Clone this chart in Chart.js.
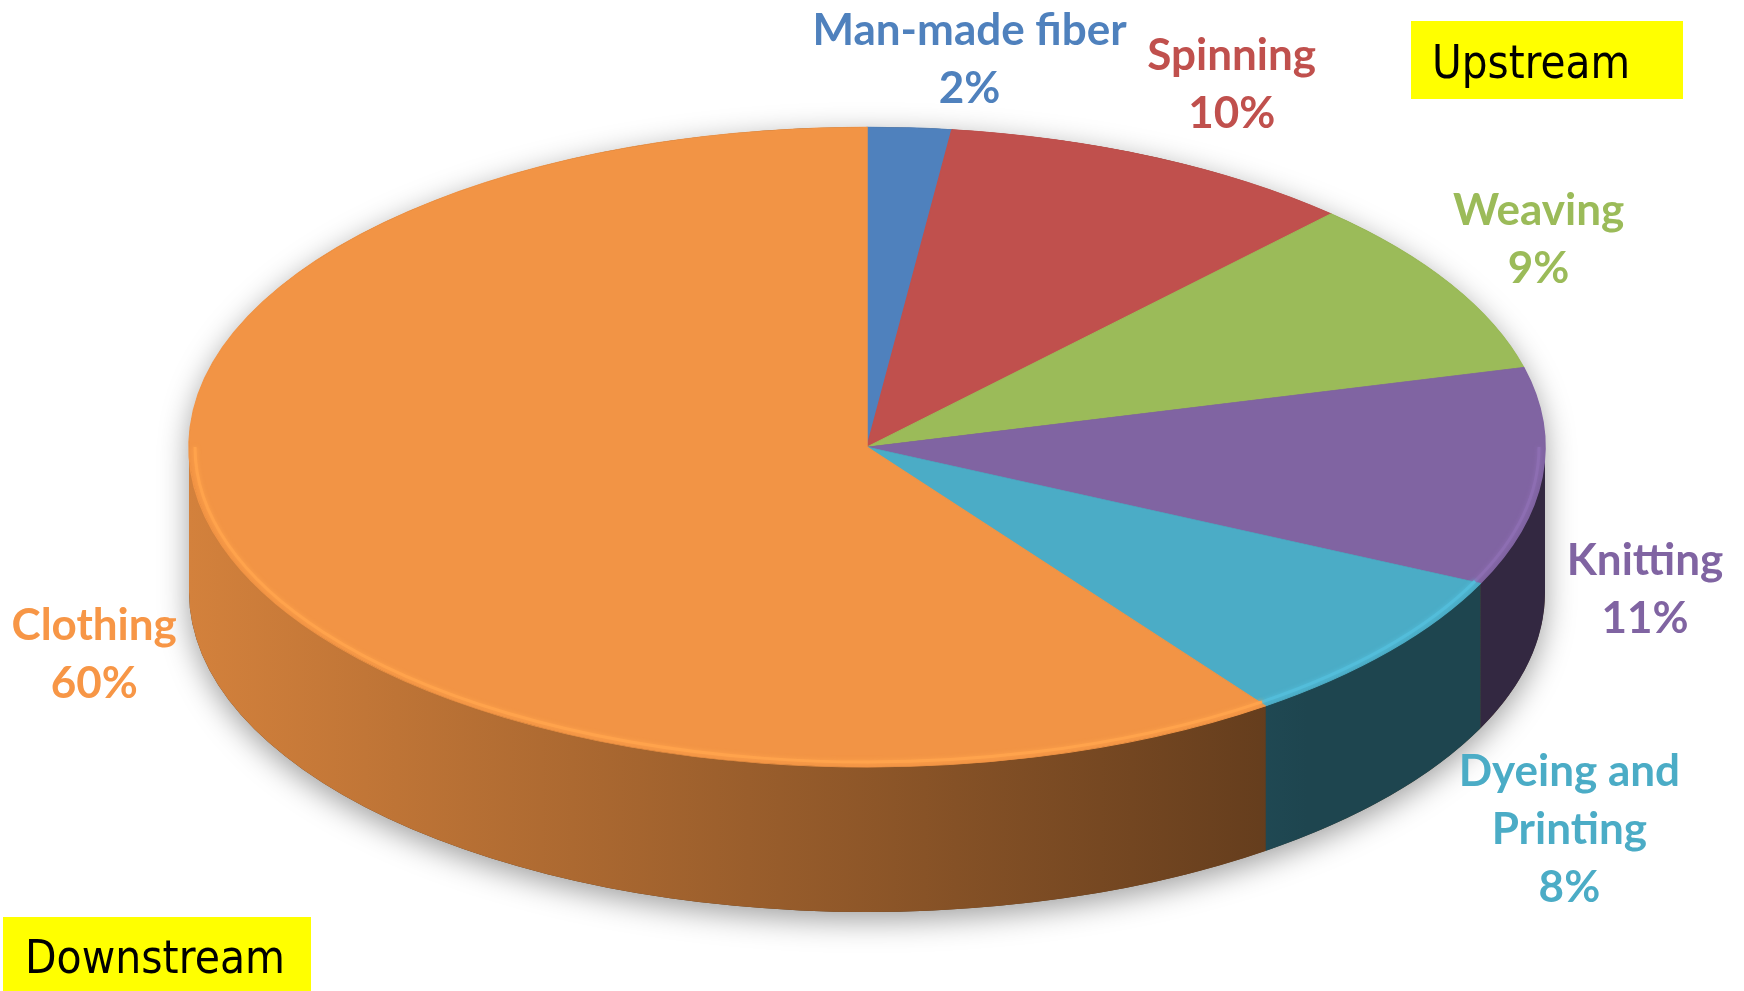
<!DOCTYPE html>
<html>
<head>
<meta charset="utf-8">
<title>Textile value chain</title>
<script src="https://cdn.jsdelivr.net/npm/chart.js@4.4.1/dist/chart.umd.min.js"></script>
<style>
  html, body { margin: 0; padding: 0; background: #fff; }
  canvas { display: block; }
</style>
</head>
<body>
<canvas id="pieChart" width="1744" height="991"></canvas>
<script>
const categories = ['Man-made fiber', 'Spinning', 'Weaving', 'Knitting', ['Dyeing and', 'Printing'], 'Clothing'];
const shares = [2, 10, 9, 11, 8, 60];
const sliceColors = ['#4F81BD', '#C0504D', '#9BBB59', '#8064A2', '#4BACC6', '#F29445'];
const labelColors = ['#4F81BD', '#C0504D', '#9BBB59', '#8064A2', '#4BACC6', '#F79646'];

// how far each label sits from the rim of its slice
const labelShift = [[60, -68], [76, -73], [88, -44], [103, 113], [180, 179], [-128, 109]];

// the flat pie is squashed into this ellipse, with this thickness
const disc = { rx: 678, ry: 320, depth: 145 };

function shade(hex, f) {
  const n = parseInt(hex.slice(1), 16);
  const r = Math.min(255, Math.round(((n >> 16) & 255) * f));
  const g = Math.min(255, Math.round(((n >> 8) & 255) * f));
  const b = Math.min(255, Math.round((n & 255) * f));
  return `rgb(${r},${g},${b})`;
}

function fitText(ctx, text, x, y, font, width) {
  ctx.font = font;
  const w = ctx.measureText(text).width;
  ctx.save();
  ctx.translate(x, y);
  ctx.scale(width / w, 1);
  ctx.fillText(text, 0, 0);
  ctx.restore();
}

const pie3d = {
  id: 'pie3d',
  beforeDatasetsDraw(chart) {
    const ctx = chart.ctx;
    const arcs = chart.getDatasetMeta(0).data;
    const { x, y, outerRadius } = arcs[0];
    const { rx, ry, depth } = disc;

    // soft shadow round the whole disc
    ctx.save();
    ctx.beginPath();
    ctx.ellipse(x, y, rx, ry, 0, Math.PI, 2 * Math.PI);
    ctx.lineTo(x + rx, y + depth);
    ctx.ellipse(x, y + depth, rx, ry, 0, 0, Math.PI);
    ctx.closePath();
    ctx.shadowColor = 'rgba(0,0,0,0.38)';
    ctx.shadowBlur = 30;
    ctx.shadowOffsetY = 8;
    ctx.fillStyle = '#5a3a1c';
    ctx.fill();
    ctx.restore();

    // side walls for the front half
    arcs.forEach((arc, i) => {
      const a1 = Math.max(arc.startAngle, 0);
      const a2 = Math.min(arc.endAngle, Math.PI);
      if (a2 <= a1) return;
      const grad = ctx.createLinearGradient(x - rx, 0, x + 0.65 * rx, 0);
      grad.addColorStop(0, shade(sliceColors[i], 0.87));
      grad.addColorStop(1, shade(sliceColors[i], 0.4));
      ctx.beginPath();
      ctx.ellipse(x, y, rx, ry, 0, a1, a2);
      ctx.lineTo(x + rx * Math.cos(a2), y + depth + ry * Math.sin(a2));
      ctx.ellipse(x, y + depth, rx, ry, 0, a2, a1, true);
      ctx.closePath();
      ctx.fillStyle = grad;
      ctx.fill();
    });

    ctx.save();
    ctx.translate(x, y);
    ctx.scale(rx / outerRadius, ry / outerRadius);
    ctx.translate(-x, -y);
  },
  afterDatasetsDraw(chart) {
    const ctx = chart.ctx;
    ctx.restore();
    const arcs = chart.getDatasetMeta(0).data;
    const { x, y } = arcs[0];
    const { rx, ry } = disc;
    const total = shares.reduce((s, v) => s + v, 0);

    // light bevel along the front rim
    arcs.forEach((arc, i) => {
      const a1 = Math.max(arc.startAngle, 0);
      const a2 = Math.min(arc.endAngle, Math.PI);
      if (a2 <= a1) return;
      ctx.save();
      ctx.beginPath();
      ctx.ellipse(x, y, rx - 6, ry - 5, 0, a1, a2);
      ctx.strokeStyle = shade(sliceColors[i], 1.1);
      ctx.lineWidth = 3;
      ctx.shadowColor = shade(sliceColors[i], 1.1);
      ctx.shadowBlur = 4;
      ctx.stroke();
      ctx.restore();
    });

    // category + percentage labels
    ctx.save();
    ctx.textAlign = 'center';
    ctx.textBaseline = 'middle';
    ctx.font = 'bold 44px Lato';
    arcs.forEach((arc, i) => {
      const mid = (arc.startAngle + arc.endAngle) / 2;
      const ex = x + rx * Math.cos(mid) + labelShift[i][0];
      const ey = y + ry * Math.sin(mid) + labelShift[i][1];
      const name = categories[i];
      const lines = (Array.isArray(name) ? name : [name]).concat(Math.round(shares[i] / total * 100) + '%');
      const lh = 58;
      ctx.fillStyle = labelColors[i];
      lines.forEach((t, k) => {
        ctx.fillText(t, ex, ey + (k - (lines.length - 1) / 2) * lh);
      });
    });
    ctx.restore();

    // stream tags
    ctx.save();
    ctx.fillStyle = '#FFFF00';
    ctx.fillRect(1411, 21, 272, 78);
    ctx.fillRect(3, 917, 308, 74);
    ctx.fillStyle = '#000';
    ctx.textAlign = 'left';
    ctx.textBaseline = 'alphabetic';
    fitText(ctx, 'Upstream', 1432, 78, '46px "DejaVu Sans"', 198);
    fitText(ctx, 'Downstream', 25, 973, '46px "DejaVu Sans"', 260);
    ctx.restore();
  }
};

function drawChart() {
  const ctx = document.getElementById('pieChart').getContext('2d');
  new Chart(ctx, {
    type: 'pie',
    data: {
      labels: categories,
      datasets: [{
        data: shares,
        backgroundColor: sliceColors,
        borderColor: sliceColors,
        borderWidth: 1
      }]
    },
    options: {
      responsive: false,
      animation: false,
      layout: { padding: { left: 0, right: 10, top: 0, bottom: 97 } },
      plugins: {
        legend: { display: false },
        tooltip: { enabled: false }
      }
    },
    plugins: [pie3d]
  });
}

document.fonts.load('bold 44px Lato').then(drawChart, drawChart);
</script>
</body>
</html>
